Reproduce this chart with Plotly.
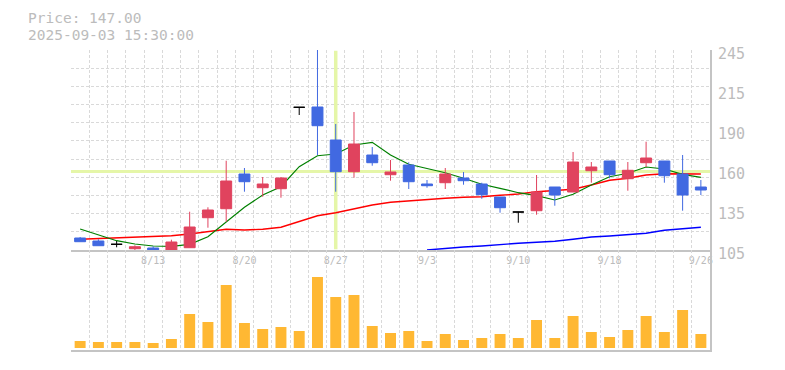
import plotly.graph_objects as go

# ---------------- data ----------------
dates = ['8/6', '8/7', '8/8', '8/12', '8/13', '8/14', '8/15', '8/18', '8/19', '8/20',
         '8/21', '8/22', '8/25', '8/26', '8/27', '8/28', '8/29', '9/1', '9/2', '9/3',
         '9/4', '9/5', '9/8', '9/9', '9/10', '9/11', '9/12', '9/16', '9/17', '9/18',
         '9/19', '9/22', '9/24', '9/25', '9/26']

open_ = [113.4, 111.3, 109.0, 105.9, 106.4, 103.8, 106.6, 127.6, 133.9, 158.2,
         148.6, 147.9, 204.9, 205.1, 182.0, 159.8, 171.5, 157.7, 164.5, 151.2,
         152.1, 155.4, 151.2, 142.1, 131.6, 132.5, 149.1, 145.6, 160.5, 167.3,
         154.9, 166.1, 167.3, 158.2, 149.1]
high = [114.1, 112.5, 111.3, 108.3, 107.6, 112.2, 131.8, 134.9, 167.5, 162.4,
        156.1, 156.1, 204.9, 255.0, 193.2, 201.6, 177.1, 168.0, 166.4, 154.0,
        162.4, 159.6, 152.1, 142.1, 131.6, 157.5, 149.1, 173.6, 166.6, 167.3,
        166.6, 180.8, 167.3, 171.5, 154.0]
low = [110.8, 108.0, 106.9, 104.5, 103.1, 103.8, 106.6, 120.6, 124.8, 145.8,
       142.3, 141.6, 199.5, 171.5, 145.8, 155.6, 164.0, 153.5, 147.7, 148.6,
       147.7, 150.7, 140.9, 131.1, 124.1, 129.7, 136.0, 145.6, 152.1, 155.2,
       146.5, 163.1, 152.1, 132.5, 143.5]
close = [110.8, 108.0, 109.0, 107.3, 103.1, 110.6, 121.1, 133.0, 153.3, 152.8,
         151.2, 155.4, 204.9, 192.0, 159.8, 179.2, 166.1, 159.6, 152.8, 150.0,
         158.2, 153.5, 143.7, 134.6, 131.6, 145.6, 143.5, 166.6, 163.1, 157.7,
         160.8, 169.4, 157.0, 143.5, 147.0]

ma5 = [119.7, 115.5, 111.5, 109.2, 107.8, 107.6, 109.0, 114.3, 124.8, 134.9,
       143.5, 149.3, 163.3, 171.0, 172.2, 178.5, 180.4, 171.5, 165.0, 162.2,
       159.1, 155.2, 151.0, 148.2, 145.1, 143.0, 140.0, 144.0, 150.5, 156.3,
       158.7, 163.1, 161.7, 158.0, 155.9]
ma25 = [112.5, 113.0, 113.6, 114.3, 114.3, 115.0, 116.2, 118.1, 119.5, 119.0,
        119.5, 120.9, 124.8, 129.0, 131.1, 133.9, 136.5, 138.4, 139.5, 140.5,
        141.2, 141.9, 142.3, 143.3, 144.2, 145.8, 146.5, 147.5, 150.5, 153.8,
        155.2, 157.5, 158.4, 158.2, 158.2]
ma75 = [None] * 19 + [105.0, 106.2, 107.1, 107.8, 109.0, 109.7, 110.4, 111.1,
                      112.5, 114.1, 114.8, 115.7, 116.7, 118.8, 119.9, 120.9]

volume = [21, 18, 18, 18, 15, 27, 102, 78, 189, 75,
          57, 63, 51, 213, 153, 159, 66, 45, 51, 21,
          42, 24, 30, 42, 30, 84, 30, 96, 48, 33,
          54, 96, 48, 114, 42]
volume = [v * 1000 for v in volume]

tick_dates = ['8/13', '8/20', '8/27', '9/3', '9/10', '9/18', '9/26']
price_ticks = [105, 133, 161, 189, 217, 245]
price_tick_text = ['105', '135', '160', '190', '215', '245']
price_min, price_max = 105, 245
cross_date = '8/27'
cross_price = 160
title_price = 'Price: 147.00'
title_time = '2025-09-03 15:30:00'

# ---------------- styles ----------------
UP = '#E0435E'
DOWN = '#4169E1'
DOJI = '#000000'
VOL = '#FFB833'
GRID = '#d9d9d9'
AXIS = '#c4c4c4'
TXT = '#bcbcbc'
CROSS = 'rgb(229,246,168)'
MONO = 'DejaVu Sans Mono'

ML, MR, MT, MB = 63, 83, 42, 28
W, H = 785, 370
PW, PH = W - ML - MR, H - MT - MB

idx = list(range(len(dates)))
n = len(dates)

fig = go.Figure()

# crosshair (under everything else in the price panel)
cx = dates.index(cross_date)
fig.add_trace(go.Scatter(x=[cx, cx], y=[price_min + 0.5, price_max - 0.5], mode='lines',
                         line=dict(color=CROSS, width=3.5), xaxis='x', yaxis='y',
                         hoverinfo='skip'))
fig.add_trace(go.Scatter(x=[-0.5, n - 0.5], y=[cross_price, cross_price], mode='lines',
                         line=dict(color=CROSS, width=3), xaxis='x', yaxis='y',
                         hoverinfo='skip'))

# moving averages (base y axis, under the candles)
fig.add_trace(go.Scatter(x=idx, y=ma25, mode='lines', line=dict(color='#ff0000', width=1.4),
                         xaxis='x', yaxis='y', hoverinfo='skip'))
fig.add_trace(go.Scatter(x=idx, y=ma75, mode='lines', line=dict(color='#0000ff', width=1.4),
                         xaxis='x', yaxis='y', hoverinfo='skip'))
fig.add_trace(go.Scatter(x=idx, y=ma5, mode='lines', line=dict(color='#008000', width=1.2),
                         xaxis='x', yaxis='y', hoverinfo='skip'))


def candle_group(sel, color):
    xs = [i for i in idx if sel(i)]
    return go.Candlestick(
        x=xs,
        open=[open_[i] for i in xs], high=[high[i] for i in xs],
        low=[low[i] for i in xs], close=[close[i] for i in xs],
        increasing=dict(line=dict(color=color, width=1), fillcolor=color),
        decreasing=dict(line=dict(color=color, width=1), fillcolor=color),
        whiskerwidth=0, xaxis='x', yaxis='y2', hoverinfo='skip')


fig.add_trace(candle_group(lambda i: close[i] > open_[i], UP))
fig.add_trace(candle_group(lambda i: close[i] < open_[i], DOWN))
fig.add_trace(candle_group(lambda i: close[i] == open_[i], DOJI))

fig.add_trace(go.Bar(x=idx, y=volume, marker=dict(color=VOL, line=dict(width=0)),
                     width=0.6, xaxis='x2', yaxis='y3', hoverinfo='skip'))

grid_x = [i - 0.5 for i in range(n + 1)]
grid_y = [price_min + k * (price_max - price_min) / 11 for k in range(12)]
minor_x = dict(tickmode='array', tickvals=grid_x, showgrid=True, gridcolor=GRID,
               gridwidth=1, griddash='3px,2px', ticks='')


def px_x(sx):  # screenshot x -> paper x (page has an 8px body margin)
    return (sx - 8 - ML) / PW


def px_y(sy):
    return (H - MB - (sy - 8)) / PH


fig.update_layout(
    width=W, height=H,
    margin=dict(l=ML, r=MR, t=MT, b=MB),
    paper_bgcolor='white', plot_bgcolor='white',
    showlegend=False, hovermode=False,
    boxgap=0.4, boxgroupgap=0,
    xaxis=dict(domain=[0, 1], anchor='y', range=[-0.5, n - 0.5],
               tickmode='array', tickvals=[dates.index(d) for d in tick_dates],
               ticktext=tick_dates, showgrid=False, zeroline=False, ticks='',
               tickfont=dict(family=MONO, size=10, color=TXT),
               showline=True, linecolor=AXIS, linewidth=2,
               minor=minor_x, rangeslider=dict(visible=False)),
    xaxis2=dict(domain=[0, 1], anchor='y3', matches='x', range=[-0.5, n - 0.5],
                showticklabels=False, showgrid=False, zeroline=False, ticks='',
                showline=True, linecolor=AXIS, linewidth=2, minor=minor_x),
    yaxis=dict(domain=[1 / 3, 1], anchor='x', range=[price_min, price_max], side='right',
               tickmode='array', tickvals=grid_y, showticklabels=False,
               showgrid=True, gridcolor=GRID, gridwidth=1, griddash='3px,2px',
               ticks='', zeroline=False, showline=True, linecolor=AXIS, linewidth=2),
    yaxis2=dict(overlaying='y', anchor='x', side='right', range=[price_min, price_max],
                tickmode='array', tickvals=price_ticks, ticktext=price_tick_text,
                showgrid=False, zeroline=False, ticks='', showline=False,
                tickfont=dict(family=MONO, size=15, color=TXT),
                ticklabelshift=4, ticklabelstandoff=7),
    yaxis3=dict(domain=[0, 1 / 3], anchor='x2', range=[-6000, 294000], side='right',
                showticklabels=False, showgrid=False, zeroline=False, ticks='',
                showline=True, linecolor=AXIS, linewidth=2),
    annotations=[
        dict(text=title_price, xref='paper', yref='paper', x=px_x(27), y=px_y(18),
             xanchor='left', yanchor='middle', showarrow=False, borderpad=0,
             font=dict(family=MONO, size=14.5, color=TXT)),
        dict(text=title_time, xref='paper', yref='paper', x=px_x(27), y=px_y(35),
             xanchor='left', yanchor='middle', showarrow=False, borderpad=0,
             font=dict(family=MONO, size=14.5, color=TXT)),
    ],
)

fig.write_html('out.html')
